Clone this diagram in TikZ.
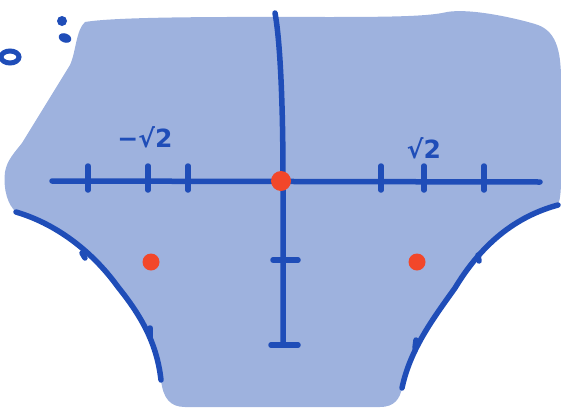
\documentclass[tikz,border=0pt]{standalone}
\usepackage{fontspec}
\newfontfamily\labfont{DejaVu Sans}
\definecolor{regionfill}{HTML}{9EB2DE}
\definecolor{inkblue}{HTML}{1F4DB8}
\definecolor{dotred}{HTML}{F2472A}
\begin{document}
\begin{tikzpicture}[x=1pt,y=-1pt,
  ink/.style={draw=inkblue,line width=5.5pt,line cap=round,line join=round},
  tickmark/.style={draw=inkblue,line width=5.5pt,line cap=round},
  reddot/.style={fill=dotred,draw=none},
  lab/.style={text=inkblue,font=\labfont\bfseries\fontsize{25}{25}\selectfont,inner sep=0pt}]
\useasboundingbox (0,0) rectangle (561,407);
% shaded region
\fill[regionfill] (85,22) .. controls (120,16) and (250,17) .. (330,17)
  .. controls (400,17) and (430,16) .. (447,12)
  .. controls (470,8) and (515,18) .. (535,24)
  .. controls (556,30) and (561,50) .. (561,80)
  -- (561,180)
  .. controls (561,192) and (560,200) .. (558,205)
  .. controls (510,218) and (478,250) .. (455,288)
  .. controls (432,320) and (410,350) .. (402,388)
  .. controls (400,398) and (395,407) .. (380,407)
  -- (185,407)
  .. controls (170,407) and (163,398) .. (161,380)
  .. controls (157,345) and (143,318) .. (118,287)
  .. controls (95,255) and (60,225) .. (16,212)
  .. controls (8,205) and (3,190) .. (5,172)
  .. controls (7,160) and (15,152) .. (22,143)
  -- (70,65)
  .. controls (76,52) and (76,30) .. cycle;
% side curves
\draw[ink] (16,212) .. controls (60,225) and (95,255) .. (118,287)
  .. controls (143,318) and (157,345) .. (161,380);
\draw[ink] (558,205) .. controls (510,218) and (478,250) .. (455,288)
  .. controls (432,320) and (410,350) .. (402,388);
\draw[tickmark] (82,253) -- (85,258);
\draw[tickmark] (150,328) -- (150,337);
\draw[tickmark] (478,255) -- (479,261);
\draw[tickmark] (416,340) -- (415,348);
% axes
\coordinate (xl) at (52,181);
\coordinate (xr) at (540,182);
\coordinate (yt) at (275,13);
\coordinate (yb) at (283,345);
\draw[ink] (xl) -- (xr);
\draw[ink] (yt) .. controls (280,40) and (283,100) .. (283,181) -- (yb);
% x ticks
\foreach \tx in {88,148,188,381,424,484}
  \draw[tickmark] (\tx,166) -- (\tx,190);
% y ticks
\draw[tickmark] (273,260) -- (298,260);
\draw[tickmark] (271,345) -- (298,345);
% red points
\fill[reddot] (281,181) circle (10);
\fill[reddot] (151,262) circle (8.5);
\fill[reddot] (417,262) circle (8.5);
% labels
\node[lab] (lneg) at (145,137) {−√2};
\node[lab] (lpos) at (424,148) {√2};
% marks top-left
\draw[draw=inkblue,line width=5pt] (10,57) ellipse (9 and 6);
\fill[inkblue] (62,21) circle (5);
\fill[inkblue,rotate around={-20:(65,38)}] (65,38) ellipse (6.5 and 4.5);
\end{tikzpicture}
\end{document}
